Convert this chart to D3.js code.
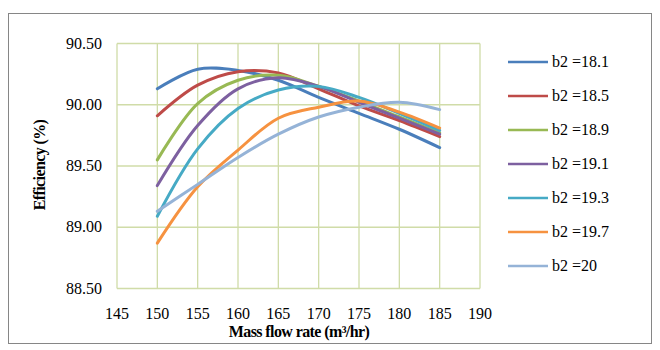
<!DOCTYPE html>
<html><head><meta charset="utf-8">
<script src="https://cdn.jsdelivr.net/npm/d3@7"></script>
<style>body{margin:0;background:#fff}svg{display:block}</style>
</head><body>
<script>
const flowRates = [150,155,160,165,170,175,180,185];
const seriesNames = ["b2 =18.1","b2 =18.5","b2 =18.9","b2 =19.1","b2 =19.3","b2 =19.7","b2 =20"];
const s181 = [90.13,90.29,90.28,90.20,90.06,89.93,89.80,89.65];
const s185 = [89.91,90.16,90.27,90.26,90.13,89.99,89.87,89.74];
const s189 = [89.55,90.01,90.20,90.24,90.15,90.03,89.90,89.77];
const s191 = [89.34,89.83,90.13,90.22,90.15,90.02,89.89,89.76];
const s193 = [89.09,89.64,89.97,90.12,90.15,90.06,89.93,89.79];
const s197 = [88.87,89.33,89.63,89.89,89.98,90.03,89.94,89.81];
const s200 = [89.13,89.35,89.57,89.76,89.90,89.98,90.02,89.96];
const seriesValues = [s181,s185,s189,s191,s193,s197,s200];
const colors = ["#4A7EBB","#BE4B48","#98B954","#7D60A0","#46AAC5","#F69240","#95B3D7"];
const xTicks = [145,150,155,160,165,170,175,180,185,190];
const yTicks = [88.5,89.0,89.5,90.0,90.5];

const W=660,H=350;
const FF="Liberation Serif";
const svg=d3.select("body").append("svg").attr("width",W).attr("height",H)
  .attr("font-family",FF);
svg.append("rect").attr("x",8.5).attr("y",13.5).attr("width",643).attr("height",330)
  .attr("fill","#fff").attr("stroke","#868686").attr("stroke-width",1);

const x=d3.scaleLinear().domain([145,190]).range([117,480]);
const y=d3.scaleLinear().domain([88.5,90.5]).range([288.5,43.5]);
const grid="#D0DCA8";
const g=svg.append("g");
xTicks.forEach(t=>g.append("line").attr("x1",x(t)).attr("x2",x(t)).attr("y1",y(88.5)).attr("y2",y(90.5)).attr("stroke",grid).attr("stroke-width",1.3));
yTicks.forEach(t=>g.append("line").attr("x1",x(145)).attr("x2",x(190)).attr("y1",y(t)).attr("y2",y(t)).attr("stroke",grid).attr("stroke-width",1.3));

xTicks.forEach(t=>svg.append("text").attr("x",x(t)).attr("y",319).attr("text-anchor","middle")
  .attr("font-family",FF).attr("font-size",16).attr("fill","#000").text(t));
yTicks.forEach(t=>svg.append("text").attr("x",102).attr("y",y(t)+5).attr("text-anchor","end")
  .attr("font-family",FF).attr("font-size",16).attr("fill","#000").text(t.toFixed(2)));

svg.append("text").attr("transform","translate(45,165) rotate(-90)").attr("text-anchor","middle")
  .attr("font-family",FF).attr("font-size",16).attr("font-weight","bold").attr("letter-spacing",-0.6)
  .text("Efficiency (%)");
svg.append("text").attr("x",299).attr("y",337).attr("text-anchor","middle")
  .attr("font-family",FF).attr("font-size",16).attr("font-weight","bold").attr("letter-spacing",-0.6)
  .text("Mass flow rate (m³/hr)");

const line=d3.line().x((d,i)=>x(flowRates[i])).y(d=>y(d)).curve(d3.curveCatmullRom.alpha(0.5));
seriesValues.forEach((vals,k)=>{
  svg.append("path").attr("d",line(vals)).attr("fill","none").attr("stroke",colors[k])
    .attr("stroke-width",3).attr("stroke-linecap","round");
});

seriesNames.forEach((n,k)=>{
  const ly=62+k*34;
  svg.append("line").attr("x1",508).attr("x2",548).attr("y1",ly).attr("y2",ly).attr("stroke",colors[k]).attr("stroke-width",2.5);
  svg.append("text").attr("x",552).attr("y",ly+5).attr("font-family",FF).attr("font-size",16).text(n);
});
</script>
</body></html>
